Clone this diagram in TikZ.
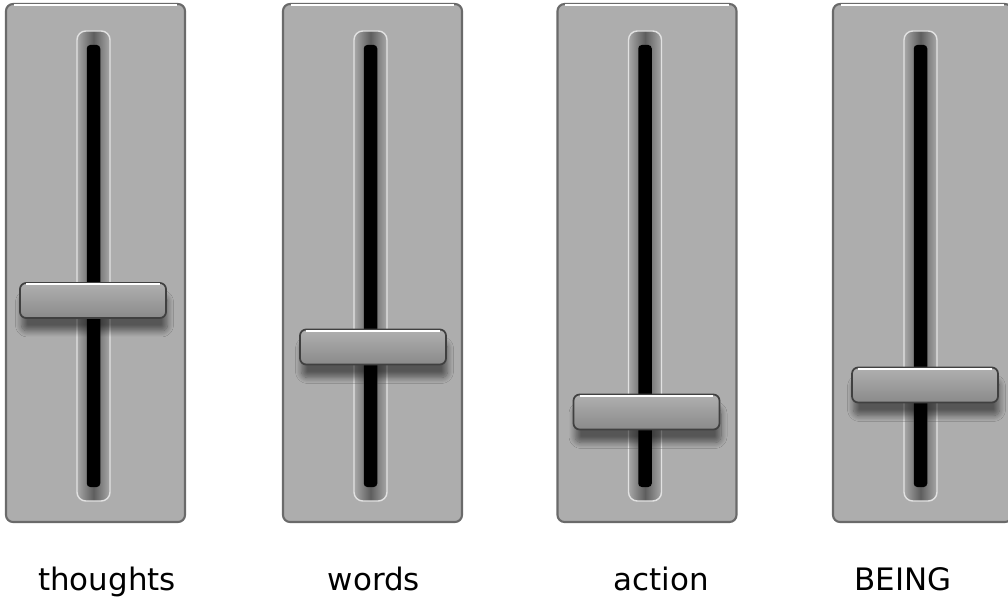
\documentclass[tikz,border=0pt]{standalone}
\usepackage{fontspec}
\setmainfont{DejaVu Sans}
\usetikzlibrary{shadows.blur}
\definecolor{panelfill}{HTML}{ADADAD}
\definecolor{paneledge}{HTML}{6A6A6A}
\definecolor{trackedge}{HTML}{E2E2E2}
\definecolor{trackmid}{HTML}{5E5E5E}
\definecolor{tracksoft}{HTML}{A8A8A8}
\definecolor{knobtop}{HTML}{B0B0B0}
\definecolor{knobbot}{HTML}{8A8A8A}
\definecolor{knobedge}{HTML}{404040}

\begin{document}
\begin{tikzpicture}[panel/.style={draw=paneledge, line width=1.2pt, fill=panelfill, rounded corners=4pt, minimum width=3.58cm, minimum height=10.36cm, inner sep=0pt},track/.style={draw=trackedge, line width=0.8pt, left color=tracksoft, right color=tracksoft, middle color=trackmid, rounded corners=5pt, minimum width=0.66cm, minimum height=9.4cm, inner sep=0pt},slot/.style={fill=black, rounded corners=2pt, minimum width=0.27cm, minimum height=8.84cm, inner sep=0pt},knob/.style={draw=knobedge, line width=1pt, top color=knobtop, bottom color=knobbot, rounded corners=3.5pt, minimum width=2.92cm, minimum height=0.70cm, inner sep=0pt, blur shadow={shadow xshift=0.03cm, shadow yshift=-0.26cm, shadow blur radius=0.12cm, shadow blur steps=10, shadow opacity=50}},shine/.style={white, line width=1.3pt},word/.style={font=\fontsize{17.6}{21}\selectfont, anchor=base}]
\useasboundingbox (0,0) rectangle (20.16,11.98);
% panels
\node[panel] (p1) at (1.91,6.72) {};\node[panel] (p2) at (7.45,6.72) {};\node[panel] (p3) at (12.94,6.72) {};\node[panel] (p4) at (18.45,6.72) {};
\draw[shine] ([xshift=5pt,yshift=-1.2pt]p1.north west) -- ([xshift=-5pt,yshift=-1.2pt]p1.north east);
\draw[shine] ([xshift=5pt,yshift=-1.2pt]p2.north west) -- ([xshift=-5pt,yshift=-1.2pt]p2.north east);
\draw[shine] ([xshift=5pt,yshift=-1.2pt]p3.north west) -- ([xshift=-5pt,yshift=-1.2pt]p3.north east);
\draw[shine] ([xshift=5pt,yshift=-1.2pt]p4.north west) -- ([xshift=-5pt,yshift=-1.2pt]p4.north east);
% tracks
\node[track] (t1) at (1.87,6.66) {};\node[slot] (s1) at (t1) {};
\node[track] (t2) at (7.41,6.66) {};\node[slot] (s2) at (t2) {};
\node[track] (t3) at (12.90,6.66) {};\node[slot] (s3) at (t3) {};
\node[track] (t4) at (18.41,6.66) {};\node[slot] (s4) at (t4) {};
% knobs
\node[knob] (k1) at (1.86,5.97) {};\draw[shine] ([xshift=4pt,yshift=-1.2pt]k1.north west) -- ([xshift=-4pt,yshift=-1.2pt]k1.north east);
\node[knob] (k2) at (7.46,5.04) {};\draw[shine] ([xshift=4pt,yshift=-1.2pt]k2.north west) -- ([xshift=-4pt,yshift=-1.2pt]k2.north east);
\node[knob] (k3) at (12.93,3.74) {};\draw[shine] ([xshift=4pt,yshift=-1.2pt]k3.north west) -- ([xshift=-4pt,yshift=-1.2pt]k3.north east);
\node[knob] (k4) at (18.50,4.28) {};\draw[shine] ([xshift=4pt,yshift=-1.2pt]k4.north west) -- ([xshift=-4pt,yshift=-1.2pt]k4.north east);
% labels
\node[word] (l1) at (2.14,0.18) {thoughts};\node[word] (l2) at (7.48,0.18) {words};\node[word] (l3) at (13.22,0.18) {action};\node[word] (l4) at (18.06,0.18) {BEING};
\end{tikzpicture}
\end{document}
